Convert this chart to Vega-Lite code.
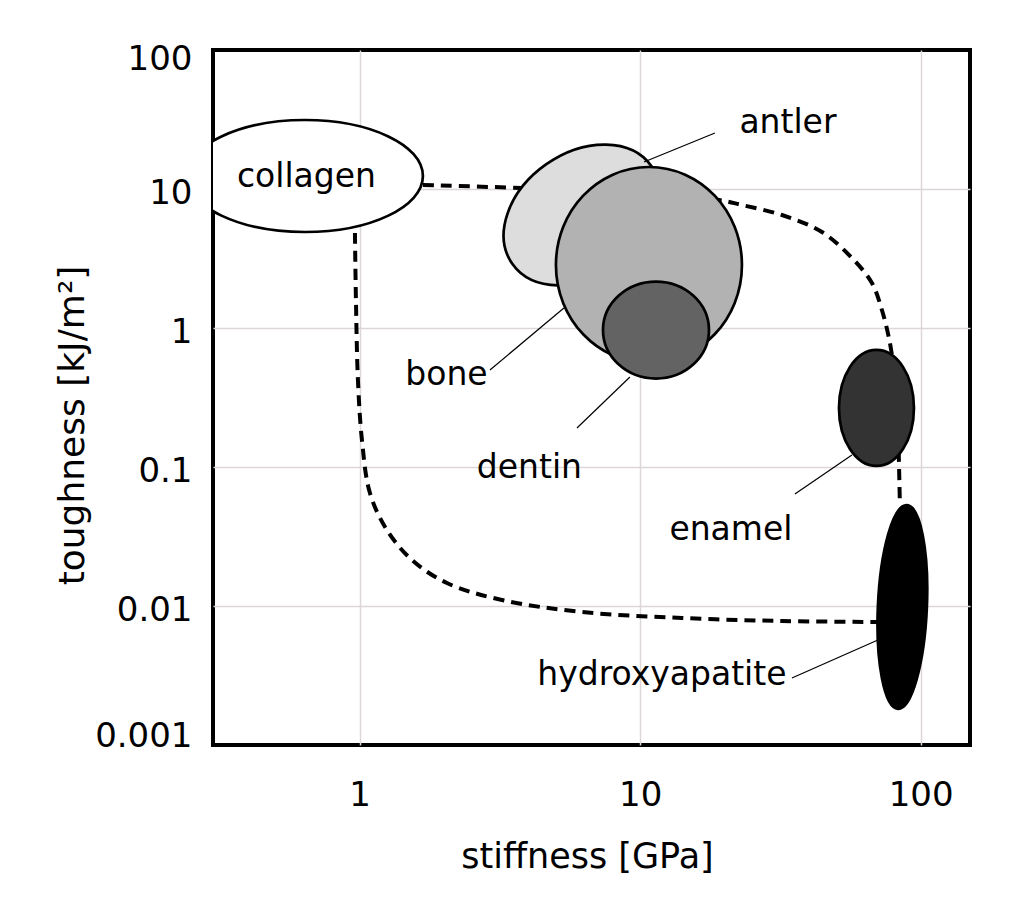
{
  "$schema": "https://vega.github.io/schema/vega-lite/v6.json",
  "width": 757,
  "height": 695,
  "autosize": "none",
  "padding": {"left": 213, "top": 50, "right": 41, "bottom": 161},
  "background": "white",
  "config": {
    "font": "DejaVu Sans",
    "view": {"stroke": "black", "strokeWidth": 4},
    "axis": {
      "labelFont": "DejaVu Sans",
      "titleFont": "DejaVu Sans",
      "labelColor": "black",
      "titleColor": "black",
      "titleFontWeight": "normal",
      "gridColor": "#ddd6d6",
      "gridWidth": 1.5,
      "domain": false,
      "ticks": false,
      "tickSize": 0,
      "labelFlush": false,
      "labelOverlap": false
    }
  },
  "datasets": {
    "materials": [
      {"material": "collagen", "stiffness": 0.638, "toughness": 12.4},
      {"material": "antler", "stiffness": 6.2, "toughness": 6.5},
      {"material": "bone", "stiffness": 10.75, "toughness": 2.84},
      {"material": "dentin", "stiffness": 11.39, "toughness": 0.967},
      {"material": "enamel", "stiffness": 69.6, "toughness": 0.266},
      {"material": "hydroxyapatite", "stiffness": 86.1, "toughness": 0.00984}
    ],
    "curves": [
      {"curve": "upper", "stiffness": 1.681, "toughness": 10.69},
      {"curve": "upper", "stiffness": 3.79, "toughness": 10.17},
      {"curve": "upper", "stiffness": 8.612, "toughness": 9.515},
      {"curve": "upper", "stiffness": 19.1, "toughness": 8.336},
      {"curve": "upper", "stiffness": 23.07, "toughness": 7.671},
      {"curve": "upper", "stiffness": 32.03, "toughness": 6.501},
      {"curve": "upper", "stiffness": 44.48, "toughness": 4.906},
      {"curve": "upper", "stiffness": 56.91, "toughness": 3.188},
      {"curve": "upper", "stiffness": 67.05, "toughness": 2.107},
      {"curve": "upper", "stiffness": 72.78, "toughness": 1.347},
      {"curve": "upper", "stiffness": 77.72, "toughness": 0.78},
      {"curve": "upper", "stiffness": 80.97, "toughness": 0.4225},
      {"curve": "upper", "stiffness": 83.0, "toughness": 0.2179},
      {"curve": "upper", "stiffness": 83.67, "toughness": 0.1123},
      {"curve": "upper", "stiffness": 84.37, "toughness": 0.0533},
      {"curve": "lower", "stiffness": 0.962, "toughness": 4.826},
      {"curve": "lower", "stiffness": 0.97, "toughness": 1.59},
      {"curve": "lower", "stiffness": 0.986, "toughness": 0.4225},
      {"curve": "lower", "stiffness": 1.019, "toughness": 0.1564},
      {"curve": "lower", "stiffness": 1.088, "toughness": 0.065},
      {"curve": "lower", "stiffness": 1.251, "toughness": 0.0352},
      {"curve": "lower", "stiffness": 1.537, "toughness": 0.02143},
      {"curve": "lower", "stiffness": 2.047, "toughness": 0.01463},
      {"curve": "lower", "stiffness": 3.216, "toughness": 0.01105},
      {"curve": "lower", "stiffness": 6.202, "toughness": 0.00905},
      {"curve": "lower", "stiffness": 14.09, "toughness": 0.0082},
      {"curve": "lower", "stiffness": 32.03, "toughness": 0.0078},
      {"curve": "lower", "stiffness": 70.43, "toughness": 0.00767}
    ],
    "labels": [
      {"label": "collagen", "stiffness": 0.646, "toughness": 10.34},
      {"label": "antler", "stiffness": 33.65, "toughness": 25.28},
      {"label": "bone", "stiffness": 2.039, "toughness": 0.389},
      {"label": "dentin", "stiffness": 4.03, "toughness": 0.0834},
      {"label": "enamel", "stiffness": 21.07, "toughness": 0.0298},
      {"label": "hydroxyapatite", "stiffness": 11.96, "toughness": 0.0027}
    ],
    "leaders": [
      {"material": "antler", "stiffness": 10.32, "toughness": 15.64, "stiffness2": 18.48, "toughness2": 25.28},
      {"material": "bone", "stiffness": 5.349, "toughness": 1.393, "stiffness2": 2.914, "toughness2": 0.4986},
      {"material": "dentin", "stiffness": 9.196, "toughness": 0.4441, "stiffness2": 5.953, "toughness2": 0.1909},
      {"material": "enamel", "stiffness": 56.91, "toughness": 0.122, "stiffness2": 35.63, "toughness2": 0.0639},
      {"material": "hydroxyapatite", "stiffness": 70.43, "toughness": 0.005691, "stiffness2": 34.77, "toughness2": 0.003034}
    ]
  },
  "encoding": {
    "x": {
      "field": "stiffness",
      "type": "quantitative",
      "scale": {"type": "log", "domain": [0.3, 150], "nice": false},
      "axis": {
        "title": "stiffness [GPa]",
        "values": [1, 10, 100],
        "format": "~g",
        "labelFontSize": 34,
        "labelPadding": 60,
        "labelBaseline": "alphabetic",
        "titleFontSize": 35,
        "titleX": 374,
        "titleY": 122,
        "titleBaseline": "alphabetic",
        "titleAlign": "center"
      }
    },
    "y": {
      "field": "toughness",
      "type": "quantitative",
      "scale": {"type": "log", "domain": [0.001, 100], "nice": false},
      "axis": {
        "title": "toughness [kJ/m²]",
        "values": [0.001, 0.01, 0.1, 1, 10, 100],
        "format": "~g",
        "labelFontSize": 34,
        "labelPadding": 21,
        "labelBaseline": "middle",
        "labelOffset": {
          "condition": [
            {"test": "datum.value >= 100", "value": 9},
            {"test": "datum.value <= 0.001", "value": -9}
          ],
          "value": 4
        },
        "gridOpacity": {
          "condition": {"test": "datum.value >= 100 || datum.value <= 0.001", "value": 0},
          "value": 1
        },
        "titleFontSize": 36,
        "titleAngle": 270,
        "titleX": -141,
        "titleY": 375,
        "titleBaseline": "middle",
        "titleAlign": "center"
      }
    }
  },
  "layer": [
    {
      "data": {"name": "curves"},
      "mark": {"type": "line", "color": "black", "strokeWidth": 4, "strokeDash": [11, 7], "interpolate": "catmull-rom"},
      "encoding": {"detail": {"field": "curve", "type": "nominal"}}
    },
    {
      "data": {"name": "materials"},
      "mark": {"type": "point", "filled": true, "size": 4, "stroke": "black", "strokeWidth": 2.7, "opacity": 1, "clip": true},
      "encoding": {
        "shape": {
          "field": "material",
          "type": "nominal",
          "legend": null,
          "scale": {
            "domain": ["collagen", "antler", "bone", "dentin", "enamel", "hydroxyapatite"],
            "range": [
              "M118,0C118,30.93 65.17,56 0,56C-65.17,56 -118,30.93 -118,0C-118,-30.93 -65.17,-56 0,-56C65.17,-56 118,-30.93 118,0Z",
              "M69.63,-48.76C89.27,-20.71 74.02,23.86 35.56,50.79C-2.9,77.72 -49.99,76.81 -69.63,48.76C-89.27,20.71 -74.02,-23.86 -35.56,-50.79C2.9,-77.72 49.99,-76.81 69.63,-48.76Z",
              "M93,0C93,54.13 51.36,98 0,98C-51.36,98 -93,54.13 -93,0C-93,-54.13 -51.36,-98 0,-98C51.36,-98 93,-54.13 93,0Z",
              "M53,0C53,26.79 29.27,48.5 0,48.5C-29.27,48.5 -53,26.79 -53,0C-53,-26.79 -29.27,-48.5 0,-48.5C29.27,-48.5 53,-26.79 53,0Z",
              "M37.5,0C37.5,32.03 20.71,58 0,58C-20.71,58 -37.5,32.03 -37.5,0C-37.5,-32.03 -20.71,-58 0,-58C20.71,-58 37.5,-32.03 37.5,0Z",
              "M24.48,1.07C22.02,57.35 9.07,102.49 -4.45,101.9C-17.97,101.31 -26.93,55.21 -24.48,-1.07C-22.02,-57.35 -9.07,-102.49 4.45,-101.9C17.97,-101.31 26.93,-55.21 24.48,1.07Z"
            ]
          }
        },
        "color": {
          "field": "material",
          "type": "nominal",
          "legend": null,
          "scale": {
            "domain": ["collagen", "antler", "bone", "dentin", "enamel", "hydroxyapatite"],
            "range": ["#ffffff", "#dddddd", "#b2b2b2", "#636363", "#333333", "#000000"]
          }
        }
      }
    },
    {
      "data": {"name": "leaders"},
      "mark": {"type": "rule", "color": "black", "strokeWidth": 1.2},
      "encoding": {
        "x2": {"field": "stiffness2"},
        "y2": {"field": "toughness2"}
      }
    },
    {
      "data": {"name": "labels"},
      "mark": {"type": "text", "font": "DejaVu Sans", "fontSize": 33, "align": "center", "baseline": "alphabetic", "color": "black"},
      "encoding": {"text": {"field": "label", "type": "nominal"}}
    }
  ]
}
